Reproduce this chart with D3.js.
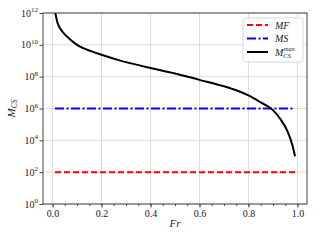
<!DOCTYPE html>
<html>
<head>
<meta charset="utf-8">
<style>
  body { margin: 0; background: #fff; }
  svg { display: block; }
  text { font-family: "Liberation Serif", "DejaVu Serif", serif; fill: #222; }
</style>
</head>
<body>
<div id="chart"></div>
<script src="https://cdn.jsdelivr.net/npm/d3@7"></script>
<script>
  var width = 320, height = 240;
  var margin = {top: 13, right: 13, bottom: 36, left: 43};

  // data
  var frMin = 0.01, frMax = 0.99;
  var mfLevel = 1e2;
  var msLevel = 1e6;
  var fr  = [0.01, 0.02, 0.03, 0.05, 0.065, 0.1, 0.16, 0.2, 0.27, 0.4, 0.5, 0.6, 0.7, 0.75, 0.8, 0.85, 0.9, 0.93, 0.96, 0.98, 0.99];
  var mcs = [1.3e12, 2.5e11, 1.15e11, 4.5e10, 2.7e10, 1.0e10, 3.9e9, 2.4e9, 1.1e9, 3.5e8, 1.6e8, 6.3e7, 2.5e7, 1.4e7, 6.6e6, 2.4e6, 7.9e5, 2.2e5, 3.5e4, 4.5e3, 1.0e3];
  var xTicks = [0, 0.2, 0.4, 0.6, 0.8, 1.0];
  var yTicks = [1e0, 1e2, 1e4, 1e6, 1e8, 1e10, 1e12];

  var svg = d3.select("#chart").append("svg")
      .attr("width", width)
      .attr("height", height);

  var w = width - margin.left - margin.right,
      h = height - margin.top - margin.bottom;

  var x = d3.scaleLinear().domain([-0.039, 1.039]).range([0, w]);
  var y = d3.scaleLog().domain([1, 1e12]).range([h, 0]);

  var g = svg.append("g").attr("transform", "translate(" + margin.left + "," + margin.top + ")");

  g.append("clipPath").attr("id", "clip")
    .append("rect").attr("width", w).attr("height", h);

  // grid
  g.selectAll(".gx").data(xTicks).enter().append("line")
      .attr("x1", function(d) { return x(d); }).attr("x2", function(d) { return x(d); })
      .attr("y1", 0).attr("y2", h)
      .attr("stroke", "#dcdcdc").attr("stroke-width", 1);
  g.selectAll(".gy").data(yTicks).enter().append("line")
      .attr("y1", function(d) { return y(d); }).attr("y2", function(d) { return y(d); })
      .attr("x1", 0).attr("x2", w)
      .attr("stroke", "#dcdcdc").attr("stroke-width", 1);

  var plot = g.append("g").attr("clip-path", "url(#clip)");

  var lineFn = d3.line()
      .x(function(d) { return x(d[0]); })
      .y(function(d) { return y(d[1]); });

  plot.append("path")
      .attr("d", lineFn([[frMin, mfLevel], [frMax, mfLevel]]))
      .attr("fill", "none").attr("stroke", "#ff0000").attr("stroke-width", 2)
      .attr("stroke-dasharray", "6,3");

  plot.append("path")
      .attr("d", lineFn([[frMin, msLevel], [frMax, msLevel]]))
      .attr("fill", "none").attr("stroke", "#0000ff").attr("stroke-width", 2)
      .attr("stroke-dasharray", "9,2.5,2,2.5");

  plot.append("path")
      .attr("d", lineFn.curve(d3.curveMonotoneX)(fr.map(function(f, i) { return [f, mcs[i]]; })))
      .attr("fill", "none").attr("stroke", "#000").attr("stroke-width", 2);

  // frame
  g.append("rect").attr("width", w).attr("height", h)
      .attr("fill", "none").attr("stroke", "#444").attr("stroke-width", 1);

  // x axis
  var xAxis = g.append("g").attr("transform", "translate(0," + h + ")")
      .call(d3.axisBottom(x).tickValues(xTicks).tickFormat(d3.format(".1f")).tickSize(3.5).tickPadding(2));
  xAxis.select(".domain").remove();
  xAxis.selectAll("text").attr("font-size", 10).attr("font-family", "Liberation Serif").attr("fill", "#222");
  xAxis.selectAll("line").attr("stroke", "#444");
  g.append("g").attr("transform", "translate(0," + h + ")")
      .call(d3.axisBottom(x).tickValues(d3.range(0, 1.01, 0.05)).tickFormat("").tickSize(2))
      .call(function(a) { a.select(".domain").remove(); a.selectAll("line").attr("stroke", "#444"); });

  // y axis
  var yAxis = g.append("g")
      .call(d3.axisLeft(y).tickValues(yTicks).tickFormat("").tickSize(3.5));
  yAxis.select(".domain").remove();
  yAxis.selectAll("line").attr("stroke", "#444");

  var yl = g.selectAll(".ylab").data(yTicks).enter().append("text")
      .attr("x", -5).attr("y", function(d) { return y(d) + 3.5; })
      .attr("text-anchor", "end")
      .attr("font-size", 10);
  yl.append("tspan").text("10");
  yl.append("tspan").attr("dy", -4.5).attr("font-size", 7)
      .text(function(d) { return Math.round(Math.log10(d)); });

  // axis labels
  svg.append("text")
      .attr("x", margin.left + w / 2).attr("y", 227)
      .attr("text-anchor", "middle").attr("font-size", 11).attr("font-style", "italic")
      .text("Fr");

  var ylab = svg.append("text")
      .attr("transform", "translate(15," + (margin.top + h / 2) + ") rotate(-90)")
      .attr("text-anchor", "middle").attr("font-size", 11).attr("font-style", "italic");
  ylab.append("tspan").text("M");
  ylab.append("tspan").attr("dy", 2).attr("font-size", 7.5).text("CS");

  // legend
  var leg = svg.append("g").attr("transform", "translate(243,18)");
  leg.append("rect").attr("width", 60).attr("height", 44).attr("rx", 2)
      .attr("fill", "#fff").attr("fill-opacity", 0.85)
      .attr("stroke", "#d8d8d8").attr("stroke-width", 1);

  var entries = [
    {name: "MF", color: "#ff0000", dash: "6,3"},
    {name: "MS", color: "#0000ff", dash: "9,2.5,2,2.5"},
    {name: "M", color: "#000", dash: null}
  ];
  entries.forEach(function(e, i) {
    var yy = 7 + i * 13.5;
    leg.append("line").attr("x1", 4).attr("x2", 25).attr("y1", yy).attr("y2", yy)
        .attr("stroke", e.color).attr("stroke-width", 2)
        .attr("stroke-dasharray", e.dash);
    var t = leg.append("text").attr("x", 32).attr("y", yy + 3.5)
        .attr("font-size", 10).attr("font-style", "italic");
    t.append("tspan").text(e.name);
    if (i === 2) {
      var mw = t.node().getComputedTextLength();
      t.append("tspan").attr("dy", 2).attr("font-size", 6.5).text("CS");
      leg.append("text").attr("x", 32 + mw + 0.5).attr("y", yy - 1.5)
          .attr("font-size", 6.5).attr("font-style", "italic").text("max");
    }
  });
</script>
</body>
</html>
